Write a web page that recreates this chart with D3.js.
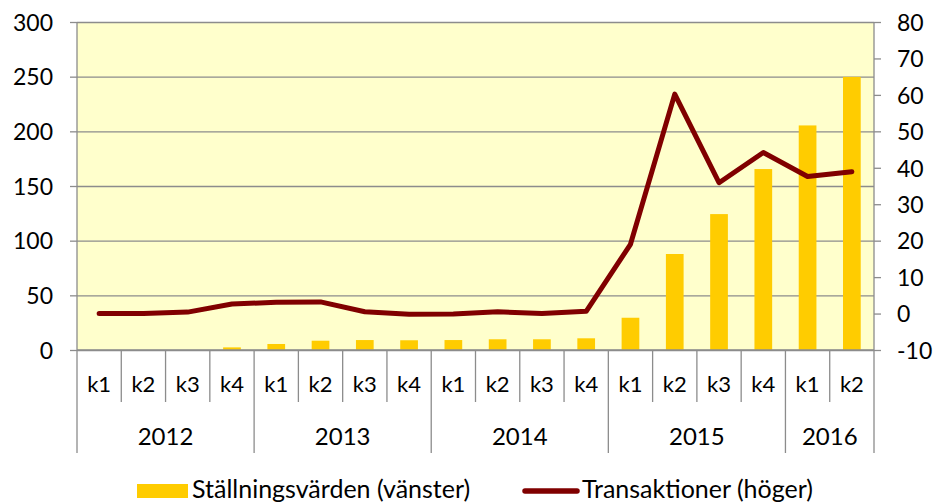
<!DOCTYPE html>
<html>
<head>
<meta charset="utf-8">
<script src="https://cdnjs.cloudflare.com/ajax/libs/d3/7.8.5/d3.min.js"></script>
<style>
    body { margin: 0; background: #fff; }
    text { font-family: 'Lato', sans-serif; fill: #000; }
    .grid line { stroke: #8c8c8c; stroke-width: 1.3px; }
</style>
</head>
<body>
<script>
    // data
    const quarters = ["k1", "k2", "k3", "k4", "k1", "k2", "k3", "k4", "k1", "k2", "k3", "k4", "k1", "k2", "k3", "k4", "k1", "k2"];
    const years = ["2012", "2013", "2014", "2015", "2016"];
    const yearSpans = [4, 4, 4, 4, 2];
    const positionValues = [0, 0, 0, 2.4, 5.5, 8.5, 9.1, 8.9, 9.1, 9.8, 9.8, 10.7, 29.5, 87.8, 124.3, 165.5, 205.4, 249.8];
    const transactions = [0, 0, 0.4, 2.6, 3.1, 3.2, 0.5, -0.2, -0.1, 0.5, 0, 0.6, 19.0, 60.2, 35.9, 44.2, 37.6, 38.9];
    const leftTicks = [0, 50, 100, 150, 200, 250, 300];
    const rightTicks = [-10, 0, 10, 20, 30, 40, 50, 60, 70, 80];
    const seriesNames = ["Ställningsvärden (vänster)", "Transaktioner (höger)"];

    const W = 935, H = 502;
    const plotL = 77, plotR = 874, plotT = 22, plotB = 350;
    const tickFont = 23, quarterFont = 22, yearFont = 24, legendFont = 25;

    const svg = d3.select("body").append("svg")
        .attr("width", W)
        .attr("height", H);

    var x = d3.scaleBand()
        .domain(d3.range(quarters.length))
        .range([plotL, plotR]);
    var yL = d3.scaleLinear().domain([0, 300]).range([plotB, plotT]);
    var yR = d3.scaleLinear().domain([-10, 80]).range([plotB, plotT]);

    // plot background
    svg.append("rect")
        .attr("x", plotL).attr("y", plotT)
        .attr("width", plotR - plotL).attr("height", plotB - plotT)
        .attr("fill", "#ffffcc");

    // grid + left axis
    svg.append("g")
        .attr("class", "grid")
        .attr("transform", "translate(" + plotL + ",0)")
        .call(d3.axisLeft(yL).tickValues(leftTicks).tickSize(-(plotR - plotL)).tickFormat(""))
        .call(g => g.select(".domain").remove());

    var gl = svg.append("g")
        .attr("transform", "translate(" + plotL + ",0)")
        .call(d3.axisLeft(yL).tickValues(leftTicks).tickSize(7).tickPadding(17).tickFormat(d => String(d)));
    gl.selectAll("line, path").attr("stroke", "#8c8c8c").attr("stroke-width", 1.3);
    gl.select(".domain").attr("d", "M0," + plotT + "V" + plotB);
    gl.selectAll("text").attr("font-family", "Lato").attr("font-size", tickFont).attr("dy", "0.36em");

    // right axis (plain hyphen for negatives, like the original)
    var gr = svg.append("g")
        .attr("transform", "translate(" + plotR + ",0)")
        .call(d3.axisRight(yR).tickValues(rightTicks).tickSize(7).tickPadding(16).tickFormat(d => String(d)));
    gr.selectAll("line, path").attr("stroke", "#8c8c8c").attr("stroke-width", 1.3);
    gr.select(".domain").attr("d", "M0," + plotT + "V" + plotB);
    gr.selectAll("text").attr("font-family", "Lato").attr("font-size", tickFont).attr("dy", "0.36em");

    // bars
    const barW = x.bandwidth() * 0.4;
    svg.append("g")
        .selectAll("rect")
        .data(positionValues)
        .enter().append("rect")
        .attr("x", (d, i) => x(i) + (x.bandwidth() - barW) / 2)
        .attr("y", d => yL(d))
        .attr("width", barW)
        .attr("height", d => yL(0) - yL(d))
        .attr("fill", "#ffcc00");

    // category axis
    const cat = svg.append("g");
    cat.append("line")
        .attr("x1", plotL).attr("x2", plotR)
        .attr("y1", plotB).attr("y2", plotB)
        .attr("stroke", "#8c8c8c").attr("stroke-width", 1.3);

    const yearStarts = [];
    let acc = 0;
    yearSpans.forEach(s => { yearStarts.push(acc); acc += s; });
    const isYearEdge = i => i === 0 || i === quarters.length || yearStarts.indexOf(i) >= 0;

    cat.selectAll(".sep")
        .data(d3.range(quarters.length + 1))
        .enter().append("line")
        .attr("x1", i => i < quarters.length ? x(i) : plotR)
        .attr("x2", i => i < quarters.length ? x(i) : plotR)
        .attr("y1", plotB)
        .attr("y2", i => isYearEdge(i) ? 453 : 402)
        .attr("stroke", "#8c8c8c").attr("stroke-width", 1.3);

    cat.selectAll(".q")
        .data(quarters)
        .enter().append("text")
        .attr("x", (d, i) => x(i) + x.bandwidth() / 2)
        .attr("y", 392)
        .attr("text-anchor", "middle")
        .attr("font-size", quarterFont)
        .text(d => d);

    cat.selectAll(".yr")
        .data(years)
        .enter().append("text")
        .attr("x", (d, i) => x(yearStarts[i]) + yearSpans[i] * x.bandwidth() / 2)
        .attr("y", 445)
        .attr("text-anchor", "middle")
        .attr("font-size", yearFont)
        .text(d => d);

    // line
    var line = d3.line()
        .x((d, i) => x(i) + x.bandwidth() / 2)
        .y(d => yR(d));

    svg.append("path")
        .datum(transactions)
        .attr("d", line)
        .attr("fill", "none")
        .attr("stroke", "#800000")
        .attr("stroke-width", 5)
        .attr("stroke-linecap", "round")
        .attr("stroke-linejoin", "round");

    // legend
    const legend = svg.append("g");
    legend.append("rect")
        .attr("x", 137).attr("y", 484)
        .attr("width", 51).attr("height", 14)
        .attr("fill", "#ffcc00");
    legend.append("text")
        .attr("x", 192).attr("y", 498)
        .attr("font-size", legendFont)
        .text(seriesNames[0]);
    legend.append("line")
        .attr("x1", 525).attr("x2", 577)
        .attr("y1", 491).attr("y2", 491)
        .attr("stroke", "#800000")
        .attr("stroke-width", 5.5)
        .attr("stroke-linecap", "round");
    legend.append("text")
        .attr("x", 582).attr("y", 498)
        .attr("font-size", legendFont)
        .text(seriesNames[1]);
</script>
</body>
</html>
